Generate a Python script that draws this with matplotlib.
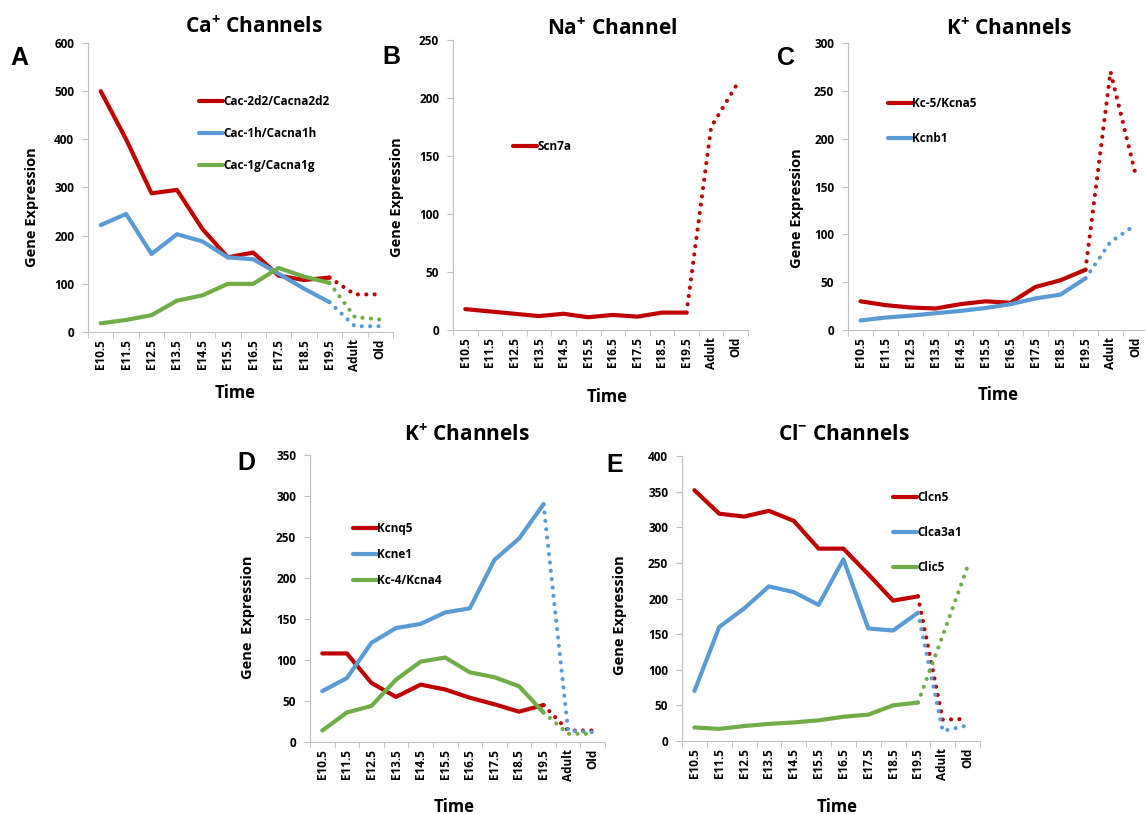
import numpy as np
import matplotlib
matplotlib.use("Agg")
import matplotlib.pyplot as plt

plt.rcParams["font.family"] = ["Open Sans", "DejaVu Sans"]
plt.rcParams["font.weight"] = "bold"
plt.rcParams["mathtext.fontset"] = "custom"
plt.rcParams["mathtext.rm"] = "Open Sans:bold"
plt.rcParams["mathtext.bf"] = "Open Sans:bold"

times = ["E10.5", "E11.5", "E12.5", "E13.5", "E14.5", "E15.5", "E16.5",
         "E17.5", "E18.5", "E19.5", "Adult", "Old"]

# Ca+ channels
cacna2d2 = [500, 400, 288, 295, 214, 155, 165, 117, 108, 113, 78, 78]
cacna1h = [222, 245, 162, 203, 188, 155, 151, 121, 90, 62, 12, 12]
cacna1g = [18, 25, 35, 65, 76, 100, 100, 133, 115, 102, 31, 26]

# Na+ channel
scn7a = [18, 16, 14, 12, 14, 11, 13, 11.5, 15, 15, 175, 210]

# K+ channels (C)
kcna5 = [30, 26, 23.5, 22.5, 27, 30, 28.5, 45, 52, 63, 270, 163]
kcnb1 = [10, 13, 15, 17.5, 20, 23, 27, 33, 37, 54, 92, 110]

# K+ channels (D)
kcnq5 = [108, 108, 72, 55, 70, 64, 54, 46, 37, 45, 14, 14]
kcne1 = [62, 78, 121, 139, 144, 158, 163, 222, 248, 290, 14, 12]
kcna4 = [14, 36, 44, 76, 98, 103, 85, 79, 68, 36, 10, 10]

# Cl- channels
clcn5 = [352, 319, 315, 323, 309, 270, 270, 234, 197, 203, 30, 31]
clca3a1 = [70, 160, 186, 217, 209, 191, 255, 158, 155, 180, 14, 22]
clic5 = [19, 17, 21, 24, 26, 29, 34, 37, 50, 54, 148, 245]

RED = "#C00000"
BLUE = "#5B9BD5"
GREEN = "#70AD47"
GRAY = "#BFBFBF"

W, H = 1145, 814
fig = plt.figure(figsize=(W / 100, H / 100), dpi=100)


def fx(px):
    return px / W


def fy(py):
    return 1 - py / H


def panel(box, series, ymax, ystep, legend_at, legend_gap):
    left, top, right, bottom = box
    ax = fig.add_axes([fx(left), fy(bottom), (right - left) / W, (bottom - top) / H])
    x = np.arange(len(times))
    for values, color, name in series:
        # measured stages solid, adult/old trend dotted
        ax.plot(x[:10], values[:10], color=color, lw=3,
                solid_joinstyle="round", solid_capstyle="round", label=name)
        ax.plot(x[9:], values[9:], color=color, lw=3,
                linestyle=(0, (0.01, 2)), dash_capstyle="round")
    ax.set_xlim(-0.5, len(times) - 0.5)
    ax.set_ylim(0, ymax)
    ax.set_yticks(np.arange(0, ymax + 1, ystep))
    ax.set_xticks(x)
    ax.set_xticklabels(times, rotation=90)
    ax.set_xticks(np.arange(-0.5, len(times), 1), minor=True)
    ax.tick_params(axis="x", which="major", length=0, pad=5, labelsize=8.5)
    ax.tick_params(axis="x", which="minor", length=4, color=GRAY)
    ax.tick_params(axis="y", length=4, color=GRAY, pad=6, labelsize=8.5)
    for side in ("top", "right"):
        ax.spines[side].set_visible(False)
    for side in ("left", "bottom"):
        ax.spines[side].set_color(GRAY)
    ax.patch.set_alpha(0)
    lx, ly = legend_at
    ax.legend(loc="upper left", bbox_to_anchor=(fx(lx), fy(ly - 5)),
              bbox_transform=fig.transFigure, frameon=False, borderpad=0,
              borderaxespad=0, handlelength=2.0, handletextpad=0.05,
              labelspacing=legend_gap, fontsize=8.5)
    return ax


panel((88, 43, 393, 332),
      [(cacna2d2, RED, "Cac-2d2/Cacna2d2"), (cacna1h, BLUE, "Cac-1h/Cacna1h"),
       (cacna1g, GREEN, "Cac-1g/Cacna1g")], 600, 100, (199, 100), 1.6)
panel((453, 40, 748, 330), [(scn7a, RED, "Scn7a")], 250, 50, (513, 145), 1.4)
panel((848, 43, 1148, 330),
      [(kcna5, RED, "Kc-5/Kcna5"), (kcnb1, BLUE, "Kcnb1")], 300, 50, (888, 102), 1.9)
panel((310, 455, 605, 742),
      [(kcnq5, RED, "Kcnq5"), (kcne1, BLUE, "Kcne1"), (kcna4, GREEN, "Kc-4/Kcna4")],
      350, 50, (353, 527), 1.1)
panel((682, 456, 980, 741),
      [(clcn5, RED, "Clcn5"), (clca3a1, BLUE, "Clca3a1"), (clic5, GREEN, "Clic5")],
      400, 50, (893, 496), 1.85)

titles = [(r"Ca$^{\mathbf{+}}$ Channels", 254, 26), (r"Na$^{\mathbf{+}}$ Channel", 612, 28),
          (r"K$^{\mathbf{+}}$ Channels", 1009, 28), (r"K$^{\mathbf{+}}$ Channels", 467, 434),
          (r"Cl$^{\mathbf{-}}$ Channels", 844, 434)]
for text, tx, ty in titles:
    fig.text(fx(tx), fy(ty), text, ha="center", va="center", fontsize=15, fontweight="bold")

letters = [("A", 19, 58), ("B", 391, 57), ("C", 786, 58), ("D", 246, 463), ("E", 615, 465)]
for text, tx, ty in letters:
    fig.text(fx(tx), fy(ty), text, ha="center", va="center", fontsize=18,
             fontweight="bold", family="Liberation Sans")

ylabels = [("Gene Expression", 32, 207), ("Gene Expression", 397, 197),
           ("Gene Expression", 797, 208), ("Gene  Expression", 248, 617),
           ("Gene Expression", 620, 615)]
for text, tx, ty in ylabels:
    fig.text(fx(tx), fy(ty), text, ha="center", va="center", rotation=90,
             fontsize=10.5, fontweight="bold")

for tx, ty in [(235, 393), (607, 397), (998, 395), (454, 807), (837, 807)]:
    fig.text(fx(tx), fy(ty), "Time", ha="center", va="center", fontsize=12, fontweight="bold")

fig.savefig("out.png", dpi=100)
